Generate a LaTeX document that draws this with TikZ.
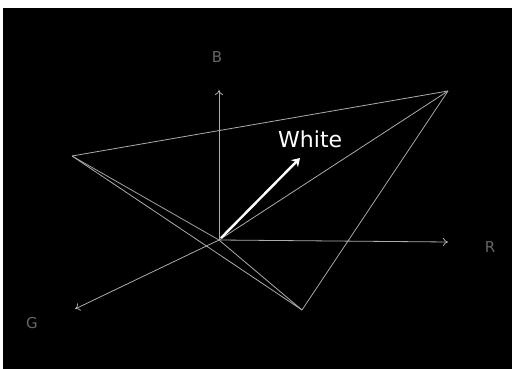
\documentclass[tikz,border=0pt]{standalone}
\usepackage{fontspec}
\setmainfont{DejaVu Sans}
\usetikzlibrary{arrows.meta}
\tikzset{
  edge/.style={draw=gray!65, line width=0.8pt},
  axis/.style={draw=gray!65, line width=0.8pt, -{To[length=5pt,width=8pt]}},
  axlabel/.style={text=gray!80!black, font=\fontsize{15}{15}\selectfont, inner sep=0pt},
}
\begin{document}
\begin{tikzpicture}[x=1pt,y=-1pt]
\useasboundingbox (0,0) rectangle (512,369);
\fill[white] (0,0) rectangle (512,369);
\fill[black] (3,8) rectangle (512,369);
\coordinate (O) at (219,240);
\coordinate (Rend) at (448,242);
\coordinate (Bend) at (219,90);
\coordinate (Gend) at (75,309);
\coordinate (L) at (72,156);
\coordinate (T) at (448,91);
\coordinate (D) at (302,310);
\coordinate (W) at (300,158);
\coordinate (Ws) at (221,238);
\node[axlabel] (Blab) at (217,57) {B};
\node[axlabel] (Rlab) at (490,247) {R};
\node[axlabel] (Glab) at (32,323) {G};
\node[text=white, font=\fontsize{22}{22}\selectfont, inner sep=0pt, anchor=base west] (wlab) at (278,147) {White};
\draw[edge] (L) -- (T);
\draw[edge] (L) -- (D);
\draw[edge] (L) -- (O) -- (D);
\draw[edge] (O) -- (T);
\draw[edge] (T) -- (D);
\draw[axis] (O) -- (Rend);
\draw[axis] (O) -- (Bend);
\draw[axis] (O) -- (Gend);
\draw[white, line width=2.4pt, -{Stealth[length=8pt,width=10pt]}] (Ws) -- (W);
\end{tikzpicture}
\end{document}
